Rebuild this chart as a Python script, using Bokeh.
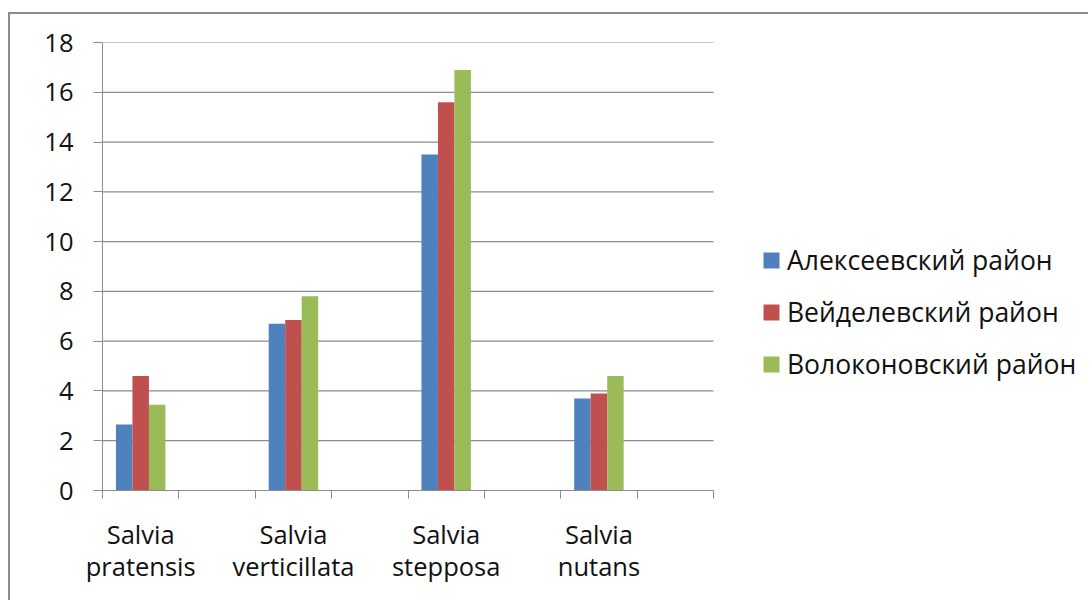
from bokeh.plotting import figure
from bokeh.models import Range1d, FixedTicker, Legend, LegendItem, ColumnDataSource
from bokeh.embed import file_html
from bokeh.resources import INLINE

categories = ["Salvia\npratensis", "Salvia\nverticillata", "Salvia\nstepposa", "Salvia\nnutans"]
series_names = ["Алексеевский район", "Вейделевский район", "Волоконовский район"]
alekseevsky = [2.65, 6.7, 13.5, 3.7]
veydelevsky = [4.6, 6.85, 15.6, 3.9]
volokonovsky = [3.45, 7.8, 16.9, 4.6]
y_ticks = [0, 2, 4, 6, 8, 10, 12, 14, 16, 18]

colors = ["#4F81BD", "#C0504D", "#9BBB59"]
series = [alekseevsky, veydelevsky, volokonovsky]

# Excel layout: each category occupies a slot followed by an empty slot
n_slots = 2 * len(categories)
centers = [2 * i + 0.5 for i in range(len(categories))]
bar_w = 0.216
offsets = [-bar_w, 0.0, bar_w]

FONT = "Open Sans"
FS = "25.5px"
GRAY = "#8c8c8c"
TXT = "#111111"

SLOT_PX = 611 / n_slots
FRAME_W = 986
x_end = FRAME_W / SLOT_PX

p = figure(
    frame_width=FRAME_W, frame_height=448,
    min_border_left=92, min_border_right=0, min_border_top=28, min_border_bottom=110,
    x_range=Range1d(0, x_end), y_range=Range1d(0, 18),
    output_backend="svg", toolbar_location=None,
)
p.styles = {"border-top": "2px solid " + GRAY, "border-left": "2px solid " + GRAY,
            "margin": "12px 0 0 8px"}
p.outline_line_color = None
p.background_fill_color = "white"
p.border_fill_color = "white"

# horizontal gridlines limited to the category area
p.segment(x0=[0] * len(y_ticks), x1=[n_slots] * len(y_ticks), y0=y_ticks, y1=y_ticks,
          line_color=GRAY, line_width=1.2)
p.xgrid.grid_line_color = None
p.ygrid.grid_line_color = None

renderers = []
for vals, off, col in zip(series, offsets, colors):
    src = ColumnDataSource(dict(x=[c + off for c in centers], top=vals))
    r = p.vbar(x="x", top="top", width=bar_w, bottom=0, source=src,
               fill_color=col, line_color=None)
    renderers.append(r)

# x axis: labels at slot-pair centers, tick marks at slot boundaries
p.xaxis.bounds = (0, n_slots)
p.xaxis.ticker = FixedTicker(ticks=centers, minor_ticks=list(range(n_slots + 1)))
p.xaxis.major_label_overrides = {c: lab for c, lab in zip(centers, categories)}
p.xaxis.major_tick_in = 0
p.xaxis.major_tick_out = 0
p.xaxis.minor_tick_in = 0
p.xaxis.minor_tick_out = 8
p.xaxis.minor_tick_line_color = GRAY
p.xaxis.axis_line_color = GRAY
p.xaxis.major_label_standoff = 18
p.xaxis.major_label_text_font = FONT
p.xaxis.major_label_text_font_size = FS
p.xaxis.major_label_text_color = TXT
p.xaxis.major_label_text_line_height = 0.97

p.yaxis.ticker = FixedTicker(ticks=y_ticks)
p.yaxis.major_tick_in = 0
p.yaxis.major_tick_out = 9
p.yaxis.minor_tick_line_color = None
p.yaxis.major_tick_line_color = GRAY
p.yaxis.axis_line_color = GRAY
p.yaxis.major_label_standoff = 20
p.yaxis.major_label_text_font = FONT
p.yaxis.major_label_text_font_size = FS
p.yaxis.major_label_text_color = TXT

legend = Legend(
    items=[LegendItem(label=n, renderers=[r]) for n, r in zip(series_names, renderers)],
    location=(659, 108),
    orientation="vertical",
    glyph_width=20, glyph_height=20,
    label_height=30, spacing=16, label_standoff=6,
    padding=0, margin=0,
    border_line_color=None, background_fill_alpha=0,
    label_text_font=FONT, label_text_font_size="26.5px", label_text_color=TXT,
)
p.add_layout(legend, "center")

open("out.html", "w").write(file_html(p, INLINE))
